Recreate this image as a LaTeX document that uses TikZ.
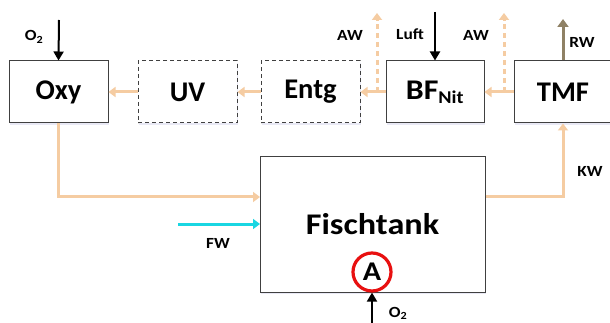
\documentclass[tikz,border=0pt]{standalone}
\usepackage{fontspec}
\setmainfont{Carlito}
\usetikzlibrary{arrows.meta,shadows}
\definecolor{peach}{HTML}{F5CCA2}
\definecolor{fwcyan}{HTML}{19D6E2}
\definecolor{rwtan}{HTML}{8F8165}
\definecolor{ared}{HTML}{E81010}
\definecolor{boxline}{HTML}{404040}
\newcommand{\wide}[1]{\scalebox{1.12}[1]{#1}}
\begin{document}
\begin{tikzpicture}[x=1pt,y=-1pt,
  box/.style={draw=boxline,line width=1pt,fill=white,minimum height=62pt,minimum width=99pt,
    font=\bfseries\fontsize{28.5}{30}\selectfont,inner sep=0pt,
    drop shadow={opacity=0.12,fill=blue!40!gray,shadow xshift=1pt,shadow yshift=-2pt}},
  dbox/.style={box,dash pattern=on 4pt off 3pt},
  flow/.style={draw=peach,line width=3pt,-{Triangle[width=10pt,length=7pt]}},
  flowdash/.style={flow,dash pattern=on 5pt off 4pt},
  blk/.style={draw=black,line width=2pt,-{Triangle[width=10pt,length=9pt]}},
  lbl/.style={font=\bfseries\fontsize{15.5}{17}\selectfont,inner sep=0pt}]
\useasboundingbox[fill=white] (0,0) rectangle (610,323);
% boxes
\node[box] (oxy) at (58.5,92) {Oxy};
\node[dbox] (uv) at (187.5,92) {UV};
\node[dbox] (entg) at (310.5,92) {Entg};
\node[box,minimum width=98pt] (bf) at (435,92) {\wide{BF\textsubscript{\fontsize{18}{19}\selectfont Nit}}};
\node[box,minimum width=98pt] (tmf) at (563,92) {TMF};
\node[box,minimum width=225pt,minimum height=135pt,font=\bfseries\fontsize{30}{32}\selectfont] (fisch) at (372.5,224.5) {\scalebox{1.14}[1]{Fischtank}};
\node[draw=ared,line width=3.2pt,fill=white,circle,minimum size=38pt,inner sep=0pt,
  font=\bfseries\fontsize{27}{28}\selectfont] (ab) at (372,272) {\wide{A}};
% coordinates
\coordinate (o2top) at (59,20);
\coordinate (luft) at (435,12);
\coordinate (aw1) at (377,13);
\coordinate (aw2) at (504,13);
\coordinate (rw) at (563,19);
\coordinate (fin) at (260,197);
\coordinate (fwstart) at (178,224);
\coordinate (fwend) at (260,224);
\coordinate (o2bot) at (372,330);
% flows
\draw[flow] (uv.west) -- (oxy.east);
\draw[flow] (entg.west) -- (uv.east);
\draw[flow] (bf.west) -- (entg.east);
\draw[flow] (tmf.west) -- (bf.east);
\draw[flowdash] (aw1 |- bf.west) -- (aw1);
\draw[flowdash] (aw2 |- tmf.west) -- (aw2);
\draw[flow] (oxy.south) |- (fin);
\draw[flow] (fisch.east |- fin) -| (tmf.south);
\draw[draw=fwcyan,line width=3pt,-{Triangle[width=10pt,length=7pt]}] (fwstart) -- (fwend);
\draw[draw=rwtan,line width=3pt,-{Triangle[width=11pt,length=8pt]}] (tmf.north) -- (rw);
\draw[blk] (o2top) -- (oxy.north);
\draw[blk] (luft) -- (luft |- bf.north);
\draw[blk] (o2bot) -- (ab.south);
% labels
\node[lbl] (lo2a) at (34,37) {\wide{O\textsubscript{2}}};
\node[lbl] (law1) at (350,35) {\wide{AW}};
\node[lbl] (lluft) at (410,34) {\wide{Luft}};
\node[lbl] (law2) at (476,35) {\wide{AW}};
\node[lbl] (lrw) at (582,42) {\wide{RW}};
\node[lbl] (lkw) at (590,171) {\wide{KW}};
\node[lbl] (lfw) at (218,243) {\wide{FW}};
\node[lbl] (lo2b) at (398,313) {\wide{O\textsubscript{2}}};
\end{tikzpicture}
\end{document}
